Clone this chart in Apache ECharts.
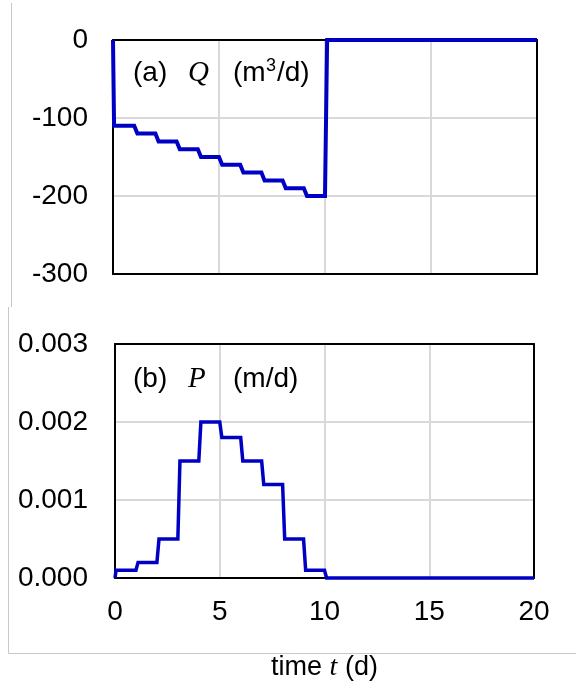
<!DOCTYPE html>
<html>
<head>
<meta charset="utf-8">
<script src="https://cdn.jsdelivr.net/npm/echarts@6/dist/echarts.min.js"></script>
<style>
html,body{margin:0;padding:0;background:#fff;}
#chart{width:576px;height:691px;}
</style>
</head>
<body>
<div id="chart"></div>
<script>
// ---- data ----
var xTicks = [0, 5, 10, 15, 20];
var qTicks = [0, -100, -200, -300];
var pTicks = [0, 0.001, 0.002, 0.003];

// (a) Q (m3/d) : pumping rate, stepped
var qTime  = [0, 0.05, 1.0, 1.15, 2.0, 2.15, 3.0, 3.15, 4.0, 4.15, 5.0, 5.15, 6.0, 6.15, 7.0, 7.15, 8.0, 8.15, 9.0, 9.15, 10.0, 10.1, 20];
var qValue = [0, -110, -110, -120, -120, -130, -130, -140, -140, -150, -150, -160, -160, -170, -170, -180, -180, -190, -190, -200, -200, 0, 0];

// (b) P (m/d) : recharge, stepped
var pTime  = [0, 0.05, 1.0, 1.1, 2.0, 2.1, 3.0, 3.1, 4.0, 4.1, 5.0, 5.1, 6.0, 6.1, 7.0, 7.1, 8.0, 8.1, 9.0, 9.1, 10.0, 10.1, 20];
var pValue = [0, 0.0001, 0.0001, 0.0002, 0.0002, 0.0005, 0.0005, 0.0015, 0.0015, 0.002, 0.002, 0.0018, 0.0018, 0.0015, 0.0015, 0.0012, 0.0012, 0.0005, 0.0005, 0.0001, 0.0001, 0, 0];

function pairs(xs, ys) {
  var out = [];
  for (var i = 0; i < xs.length; i++) out.push([xs[i], ys[i]]);
  return out;
}

var SANS = '"Liberation Sans", Arial, sans-serif';
var SERIF = '"Liberation Serif", "Times New Roman", serif';
var LINE = '#0000c4';
var GRIDC = '#d9d9d9';
var FRAME = {show: true, onZero: false, lineStyle: {color: '#000', width: 2}};

var chart = echarts.init(document.getElementById('chart'), null, {renderer: 'canvas'});

function xAxisCfg(gridIndex, showLabels) {
  return {
    type: 'value', gridIndex: gridIndex, position: 'bottom',
    min: xTicks[0], max: xTicks[xTicks.length - 1], interval: 5,
    axisLine: FRAME,
    axisTick: {show: false},
    splitLine: {show: true, showMinLine: false, showMaxLine: false, lineStyle: {color: GRIDC, width: 2}},
    axisLabel: {show: showLabels, color: '#000', fontFamily: SANS, fontSize: 28, margin: 20},
    name: showLabels ? '{n|time }{i|t}{n| (d)}' : '',
    nameLocation: 'middle',
    nameGap: 76,
    nameTextStyle: {
      rich: {
        n: {fontFamily: SANS, fontSize: 27, color: '#000'},
        i: {fontFamily: SERIF, fontStyle: 'italic', fontSize: 28, color: '#000'}
      }
    }
  };
}
function xFrameTop(gridIndex) {
  return {
    type: 'value', gridIndex: gridIndex, position: 'top',
    min: xTicks[0], max: xTicks[xTicks.length - 1], interval: 5,
    axisLine: FRAME, axisTick: {show: false}, axisLabel: {show: false}, splitLine: {show: false}
  };
}
function yFrameRight(gridIndex, lo, hi, step) {
  return {
    type: 'value', gridIndex: gridIndex, position: 'right',
    min: lo, max: hi, interval: step,
    axisLine: FRAME, axisTick: {show: false}, axisLabel: {show: false}, splitLine: {show: false}
  };
}

var option = {
  backgroundColor: '#fff',
  animation: false,
  grid: [
    {left: 113, top: 40, width: 424, height: 234, containLabel: false},
    {left: 115, top: 344, width: 419, height: 234, containLabel: false}
  ],
  xAxis: [xAxisCfg(0, false), xAxisCfg(1, true), xFrameTop(0), xFrameTop(1)],
  yAxis: [
    {
      type: 'value', gridIndex: 0, position: 'left',
      min: qTicks[qTicks.length - 1], max: qTicks[0], interval: 100,
      axisLine: FRAME, axisTick: {show: false},
      splitLine: {show: true, showMinLine: false, showMaxLine: false, lineStyle: {color: GRIDC, width: 2}},
      axisLabel: {color: '#000', fontFamily: SANS, fontSize: 28, margin: 25}
    },
    {
      type: 'value', gridIndex: 1, position: 'left',
      min: pTicks[0], max: pTicks[pTicks.length - 1], interval: 0.001,
      axisLine: FRAME, axisTick: {show: false},
      splitLine: {show: true, showMinLine: false, showMaxLine: false, lineStyle: {color: GRIDC, width: 2}},
      axisLabel: {color: '#000', fontFamily: SANS, fontSize: 28, margin: 27,
        formatter: function (v) { return v.toFixed(3); }}
    },
    yFrameRight(0, qTicks[qTicks.length - 1], qTicks[0], 100),
    yFrameRight(1, pTicks[0], pTicks[pTicks.length - 1], 0.001)
  ],
  series: [
    {
      type: 'line', xAxisIndex: 0, yAxisIndex: 0, z: 5,
      data: pairs(qTime, qValue),
      showSymbol: false, clip: false,
      lineStyle: {color: LINE, width: 4, join: 'miter'}
    },
    {
      type: 'line', xAxisIndex: 1, yAxisIndex: 1, z: 5,
      data: pairs(pTime, pValue),
      showSymbol: false, clip: false,
      lineStyle: {color: LINE, width: 3.5, join: 'miter'}
    }
  ],
  graphic: [
    // faint frame lines of the original figure panels
    {type: 'line', silent: true, shape: {x1: 11.5, y1: 3, x2: 11.5, y2: 307}, style: {stroke: '#c8c8c8', lineWidth: 1}},
    {type: 'line', silent: true, shape: {x1: 8.5, y1: 307, x2: 8.5, y2: 653.5}, style: {stroke: '#c8c8c8', lineWidth: 1}},
    {type: 'line', silent: true, shape: {x1: 8.5, y1: 653.5, x2: 576, y2: 653.5}, style: {stroke: '#c8c8c8', lineWidth: 1}},
    // panel (a) label
    {type: 'text', left: 133, top: 59, style: {text: '(a)', font: '28px ' + SANS, fill: '#000'}},
    {type: 'text', left: 188, top: 59, style: {text: 'Q', font: 'italic 29px ' + SERIF, fill: '#000'}},
    {type: 'text', left: 233, top: 59, style: {text: '(m', font: '28px ' + SANS, fill: '#000'}},
    {type: 'text', left: 266, top: 57, style: {text: '3', font: '18px ' + SANS, fill: '#000'}},
    {type: 'text', left: 277, top: 59, style: {text: '/d)', font: '28px ' + SANS, fill: '#000'}},
    // panel (b) label
    {type: 'text', left: 133, top: 365, style: {text: '(b)', font: '28px ' + SANS, fill: '#000'}},
    {type: 'text', left: 188, top: 365, style: {text: 'P', font: 'italic 29px ' + SERIF, fill: '#000'}},
    {type: 'text', left: 233, top: 365, style: {text: '(m/d)', font: '28px ' + SANS, fill: '#000'}}
  ]
};

chart.setOption(option);
</script>
</body>
</html>
